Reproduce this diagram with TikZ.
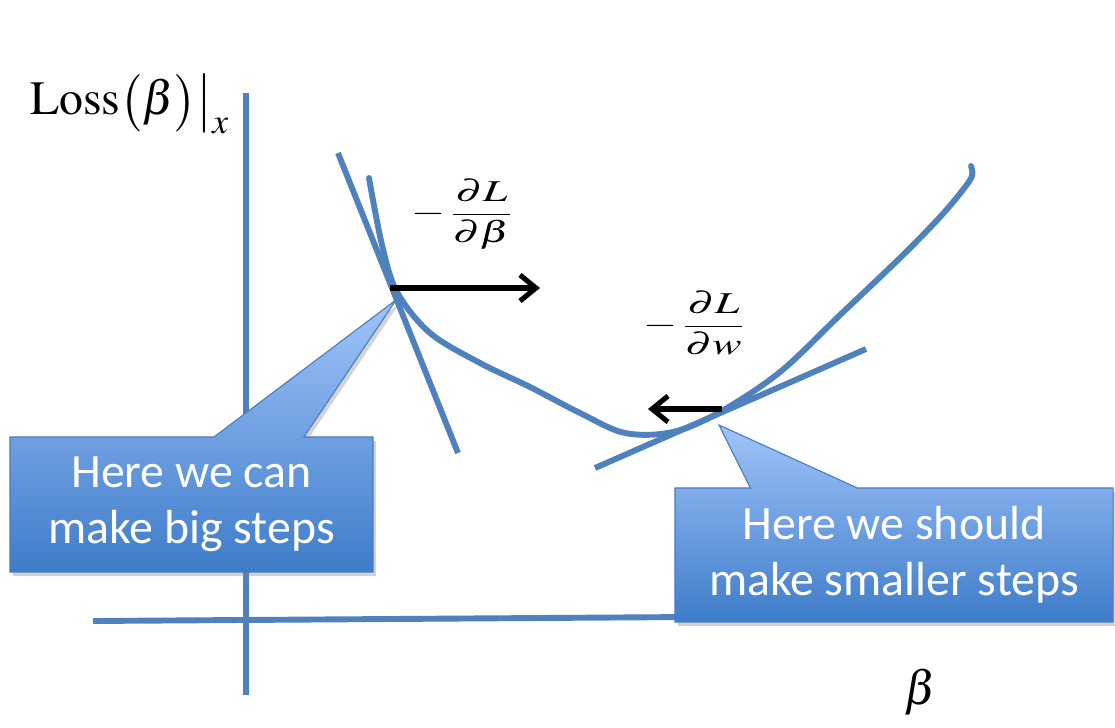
\documentclass[tikz,border=0pt]{standalone}
\usepackage{mathptmx}
\usepackage{fontspec}
\setmainfont{Liberation Serif}
\newfontfamily\calloutfont{Carlito}
\usetikzlibrary{arrows.meta,shapes.callouts,shadows}
\definecolor{lineblue}{RGB}{79,129,189}
\definecolor{boxtop}{RGB}{160,196,250}
\definecolor{boxbot}{RGB}{62,124,201}
\definecolor{boxedge}{RGB}{74,126,187}
\newcommand{\gradlabel}[1]{\scalebox{1.45}[1]{\fontsize{21.5}{26}\selectfont$\displaystyle -\,\frac{\partial L}{\partial #1}$}}
\begin{document}
\begin{tikzpicture}[x=0.025cm,y=-0.025cm,
        blueline/.style={lineblue,line width=4.2pt,line cap=round},
        steparrow/.style={line width=3.6pt,-{Straight Barb[length=4mm,width=6.5mm,line width=3.6pt]}},
        callbox/.style={rectangle callout,draw=boxedge,line width=0.8pt,top color=boxtop,bottom color=boxbot,
          drop shadow={shadow xshift=2pt,shadow yshift=-3pt,opacity=0.35},text=white,align=center,
          inner sep=0pt,font=\calloutfont\fontsize{34}{40}\selectfont}]
        \useasboundingbox (0,0) rectangle (1115,728);
        % axes
        \coordinate (ytop) at (246,93);
        \coordinate (ybot) at (246,695);
        \coordinate (xleft) at (93,621);
        \coordinate (xright) at (690,617);
        \draw[lineblue,line width=4.2pt] (ytop) -- (ybot);
        \draw[lineblue,line width=4.2pt] (xleft) -- (xright);
        % tangents
        \coordinate (tanAa) at (338,153);
        \coordinate (tanAb) at (458,453);
        \coordinate (tanBa) at (595,468);
        \coordinate (tanBb) at (866,349);
        \draw[lineblue,line width=4.2pt] (tanAa) -- (tanAb);
        \draw[lineblue,line width=4.2pt] (tanBa) -- (tanBb);
        % loss curve
        \draw[blueline] plot[smooth,tension=0.55] coordinates {(369,178) (382,245) (397,292) (430,333)
          (480,363) (530,387) (580,413) (625,433) (673,432) (720,412) (780,372) (840,315)
          (902,256) (940,217) (962,191) (972,176) (971,166)};
        % gradient steps
        \coordinate (pA) at (390,288);
        \coordinate (pAend) at (540,288);
        \coordinate (pB) at (722,409);
        \coordinate (pBend) at (648,409);
        \draw[steparrow] (pA) -- (pAend);
        \draw[steparrow] (pB) -- (pBend);
        \node (gradA) at (462,214) {\gradlabel{\beta}};
        \node (gradB) at (694,323) {\gradlabel{w}};
        % axis labels
        \node[anchor=base west,inner sep=0pt] (losslabel) at (30,115)
          {\fontsize{34}{40}\selectfont$\mathrm{Loss}\bigl(\beta\bigr)\bigr|_x$};
        \node (betalabel) at (921,692) {\fontsize{34}{40}\selectfont$\beta$};
        % callouts
        \coordinate (tipA) at (396,300);
        \coordinate (tipB) at (719,425);
        \node[callbox,minimum width=9.075cm,minimum height=3.375cm,callout pointer width=2.25cm,
          callout absolute pointer={(tipA)}] (bigsteps) at (191.5,504.5) {Here we can\\make big steps};
        \node[callbox,minimum width=10.95cm,minimum height=3.35cm,callout pointer width=2.675cm,
          callout absolute pointer={(tipB)}] (smallsteps) at (894,555) {Here we should\\make smaller steps};
\end{tikzpicture}
\end{document}
